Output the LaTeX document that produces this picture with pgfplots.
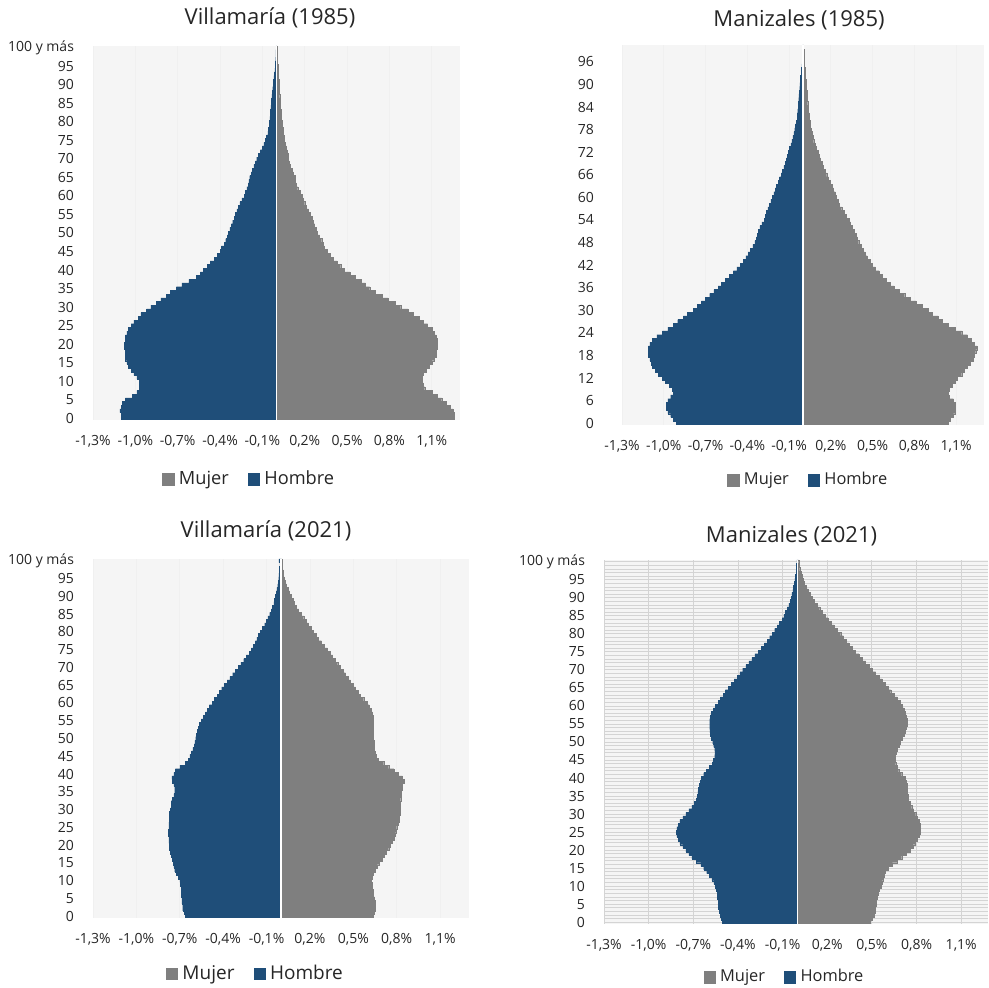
\documentclass[border=0pt]{standalone}
\usepackage{fontspec}
\setmainfont{Open Sans}
\usepackage{pgfplots}
\usepackage{pgfplotstable}
\pgfplotsset{compat=1.18}
\definecolor{hom}{RGB}{31,78,121}
\definecolor{muj}{RGB}{127,127,127}

% Villamaria 1985: age, mujer, hombre
\pgfplotstableread{
a m h
0 1.26 -1.10
1 1.26 -1.10
2 1.25 -1.11
3 1.23 -1.10
4 1.20 -1.09
5 1.17 -1.07
6 1.14 -1.02
7 1.10 -0.99
8 1.05 -0.97
9 1.04 -0.97
10 1.03 -0.97
11 1.03 -0.99
12 1.04 -1.01
13 1.06 -1.03
14 1.08 -1.05
15 1.10 -1.06
16 1.12 -1.07
17 1.13 -1.07
18 1.13 -1.07
19 1.14 -1.08
20 1.14 -1.08
21 1.14 -1.07
22 1.13 -1.07
23 1.12 -1.06
24 1.10 -1.05
25 1.07 -1.03
26 1.04 -1.01
27 1.01 -0.98
28 0.97 -0.96
29 0.93 -0.92
30 0.88 -0.89
31 0.84 -0.85
32 0.79 -0.82
33 0.75 -0.78
34 0.70 -0.75
35 0.66 -0.71
36 0.63 -0.67
37 0.60 -0.62
38 0.56 -0.57
39 0.52 -0.54
40 0.48 -0.52
41 0.455 -0.49
42 0.43 -0.47
43 0.40 -0.44
44 0.38 -0.42
45 0.36 -0.40
46 0.34 -0.39
47 0.33 -0.37
48 0.32 -0.36
49 0.305 -0.35
50 0.29 -0.34
51 0.28 -0.33
52 0.27 -0.32
53 0.26 -0.31
54 0.25 -0.30
55 0.24 -0.29
56 0.225 -0.28
57 0.21 -0.27
58 0.20 -0.26
59 0.19 -0.245
60 0.18 -0.23
61 0.165 -0.22
62 0.15 -0.21
63 0.14 -0.20
64 0.135 -0.195
65 0.13 -0.19
66 0.12 -0.18
67 0.11 -0.17
68 0.10 -0.16
69 0.092 -0.15
70 0.085 -0.14
71 0.08 -0.128
72 0.075 -0.115
73 0.07 -0.10
74 0.063 -0.09
75 0.056 -0.08
76 0.052 -0.07
77 0.048 -0.062
78 0.045 -0.056
79 0.042 -0.052
80 0.038 -0.05
81 0.036 -0.047
82 0.033 -0.045
83 0.031 -0.042
84 0.028 -0.04
85 0.026 -0.038
86 0.025 -0.035
87 0.023 -0.032
88 0.021 -0.03
89 0.02 -0.027
90 0.019 -0.024
91 0.017 -0.021
92 0.015 -0.018
93 0.013 -0.015
94 0.011 -0.012
95 0.01 -0.01
96 0.008 -0.008
97 0.007 -0.006
98 0.006 -0.005
99 0.005 -0.004
100 0.004 -0.003
}\tA

% Manizales 1985
\pgfplotstableread{
a m h
0 1.04 -0.91
1 1.06 -0.93
2 1.08 -0.95
3 1.09 -0.97
4 1.09 -0.98
5 1.09 -0.98
6 1.08 -0.97
7 1.05 -0.95
8 1.04 -0.93
9 1.05 -0.94
10 1.07 -0.96
11 1.09 -0.99
12 1.11 -1.01
13 1.14 -1.04
14 1.16 -1.06
15 1.18 -1.08
16 1.20 -1.09
17 1.22 -1.10
18 1.23 -1.11
19 1.24 -1.11
20 1.25 -1.11
21 1.23 -1.10
22 1.21 -1.08
23 1.18 -1.05
24 1.14 -1.01
25 1.09 -0.97
26 1.04 -0.93
27 1.00 -0.90
28 0.97 -0.86
29 0.93 -0.83
30 0.90 -0.79
31 0.855 -0.76
32 0.81 -0.73
33 0.77 -0.70
34 0.73 -0.67
35 0.69 -0.64
36 0.655 -0.61
37 0.625 -0.585
38 0.595 -0.56
39 0.57 -0.53
40 0.547 -0.50
41 0.52 -0.475
42 0.50 -0.45
43 0.48 -0.43
44 0.46 -0.41
45 0.445 -0.395
46 0.43 -0.38
47 0.415 -0.36
48 0.40 -0.345
49 0.39 -0.335
50 0.38 -0.33
51 0.367 -0.32
52 0.354 -0.31
53 0.342 -0.295
54 0.33 -0.28
55 0.31 -0.272
56 0.294 -0.265
57 0.278 -0.252
58 0.263 -0.24
59 0.25 -0.23
60 0.24 -0.22
61 0.23 -0.21
62 0.22 -0.20
63 0.21 -0.19
64 0.197 -0.178
65 0.183 -0.168
66 0.17 -0.157
67 0.158 -0.147
68 0.147 -0.138
69 0.137 -0.128
70 0.126 -0.12
71 0.116 -0.112
72 0.106 -0.104
73 0.096 -0.096
74 0.086 -0.088
75 0.077 -0.08
76 0.07 -0.073
77 0.064 -0.066
78 0.058 -0.06
79 0.053 -0.054
80 0.049 -0.048
81 0.046 -0.043
82 0.043 -0.04
83 0.04 -0.038
84 0.036 -0.036
85 0.034 -0.034
86 0.031 -0.031
87 0.029 -0.029
88 0.027 -0.027
89 0.024 -0.024
90 0.022 -0.022
91 0.02 -0.019
92 0.017 -0.017
93 0.014 -0.014
94 0.013 -0.012
95 0.011 -0.009
96 0.01 -0.007
97 0.008 -0.005
98 0.006 -0.004
99 0.005 -0.003
100 0.004 -0.003
}\tB

% Villamaria 2021
\pgfplotstableread{
a m h
0 0.64 -0.66
1 0.645 -0.67
2 0.65 -0.68
3 0.65 -0.68
4 0.65 -0.685
5 0.645 -0.685
6 0.64 -0.69
7 0.635 -0.69
8 0.63 -0.69
9 0.628 -0.695
10 0.625 -0.70
11 0.628 -0.71
12 0.635 -0.725
13 0.65 -0.735
14 0.665 -0.74
15 0.68 -0.745
16 0.70 -0.75
17 0.715 -0.76
18 0.73 -0.765
19 0.745 -0.77
20 0.755 -0.77
21 0.77 -0.775
22 0.78 -0.775
23 0.79 -0.78
24 0.795 -0.78
25 0.80 -0.775
26 0.81 -0.775
27 0.815 -0.77
28 0.82 -0.77
29 0.823 -0.77
30 0.825 -0.765
31 0.825 -0.76
32 0.825 -0.76
33 0.828 -0.75
34 0.83 -0.74
35 0.832 -0.735
36 0.835 -0.735
37 0.84 -0.74
38 0.85 -0.75
39 0.84 -0.755
40 0.81 -0.74
41 0.78 -0.73
42 0.745 -0.70
43 0.71 -0.66
44 0.675 -0.64
45 0.66 -0.63
46 0.65 -0.62
47 0.647 -0.61
48 0.645 -0.60
49 0.642 -0.595
50 0.64 -0.59
51 0.64 -0.585
52 0.64 -0.58
53 0.64 -0.572
54 0.64 -0.565
55 0.64 -0.55
56 0.64 -0.535
57 0.633 -0.522
58 0.625 -0.51
59 0.61 -0.495
60 0.595 -0.477
61 0.572 -0.46
62 0.55 -0.44
63 0.532 -0.425
64 0.515 -0.41
65 0.497 -0.39
66 0.48 -0.373
67 0.462 -0.353
68 0.445 -0.334
69 0.427 -0.315
70 0.41 -0.297
71 0.392 -0.277
72 0.375 -0.258
73 0.357 -0.24
74 0.34 -0.22
75 0.32 -0.205
76 0.30 -0.19
77 0.28 -0.178
78 0.26 -0.166
79 0.242 -0.155
80 0.225 -0.143
81 0.207 -0.128
82 0.19 -0.113
83 0.173 -0.10
84 0.157 -0.09
85 0.14 -0.078
86 0.122 -0.067
87 0.108 -0.058
88 0.094 -0.05
89 0.082 -0.045
90 0.07 -0.04
91 0.059 -0.034
92 0.048 -0.028
93 0.039 -0.023
94 0.03 -0.018
95 0.024 -0.016
96 0.018 -0.014
97 0.014 -0.012
98 0.01 -0.01
99 0.008 -0.008
100 0.008 -0.015
}\tC

% Manizales 2021
\pgfplotstableread{
a m h
0 0.49 -0.507
1 0.50 -0.512
2 0.513 -0.518
3 0.52 -0.524
4 0.525 -0.53
5 0.528 -0.532
6 0.53 -0.534
7 0.535 -0.537
8 0.54 -0.54
9 0.55 -0.545
10 0.56 -0.55
11 0.567 -0.562
12 0.574 -0.575
13 0.582 -0.592
14 0.59 -0.61
15 0.61 -0.63
16 0.637 -0.65
17 0.668 -0.68
18 0.70 -0.71
19 0.73 -0.73
20 0.76 -0.75
21 0.775 -0.77
22 0.79 -0.79
23 0.803 -0.80
24 0.816 -0.81
25 0.822 -0.812
26 0.827 -0.81
27 0.822 -0.80
28 0.816 -0.79
29 0.805 -0.77
30 0.794 -0.75
31 0.78 -0.73
32 0.767 -0.71
33 0.755 -0.695
34 0.744 -0.68
35 0.741 -0.675
36 0.738 -0.67
37 0.738 -0.665
38 0.738 -0.66
39 0.73 -0.652
40 0.722 -0.645
41 0.70 -0.63
42 0.68 -0.614
43 0.67 -0.594
44 0.66 -0.574
45 0.657 -0.565
46 0.655 -0.556
47 0.662 -0.555
48 0.67 -0.556
49 0.682 -0.563
50 0.693 -0.57
51 0.704 -0.578
52 0.715 -0.585
53 0.723 -0.588
54 0.73 -0.59
55 0.735 -0.59
56 0.738 -0.59
57 0.732 -0.585
58 0.726 -0.58
59 0.715 -0.565
60 0.704 -0.55
61 0.687 -0.534
62 0.67 -0.518
63 0.648 -0.50
64 0.626 -0.484
65 0.607 -0.464
66 0.587 -0.444
67 0.567 -0.425
68 0.547 -0.406
69 0.525 -0.387
70 0.502 -0.368
71 0.48 -0.347
72 0.457 -0.327
73 0.435 -0.307
74 0.413 -0.287
75 0.39 -0.265
76 0.368 -0.242
77 0.347 -0.223
78 0.327 -0.204
79 0.308 -0.187
80 0.29 -0.17
81 0.267 -0.153
82 0.244 -0.137
83 0.225 -0.12
84 0.206 -0.103
85 0.186 -0.091
86 0.166 -0.08
87 0.149 -0.069
88 0.132 -0.058
89 0.115 -0.05
90 0.099 -0.043
91 0.085 -0.037
92 0.072 -0.031
93 0.06 -0.026
94 0.047 -0.022
95 0.039 -0.017
96 0.031 -0.013
97 0.023 -0.01
98 0.015 -0.007
99 0.011 -0.006
100 0.008 -0.005
}\tD

\pgfplotsset{
  pyr/.style={
    scale only axis, xbar, bar width=1, bar shift=0pt,
    xmin=-1.3, xmax=1.3, ymin=-0.5, ymax=100.5,
    enlargelimits=false,
    xtick={-1.3,-1,-0.7,-0.4,-0.1,0.2,0.5,0.8,1.1},
    xticklabels={{-1,3\%},{-1,0\%},{-0,7\%},{-0,4\%},{-0,1\%},{0,2\%},{0,5\%},{0,8\%},{1,1\%}},
    axis line style={draw=none}, major tick length=0pt, minor tick length=0pt,
    tick label style={font=\fontsize{7}{8}\selectfont, text=black!85},
    xticklabel style={yshift=-4pt},
    yticklabel style={xshift=-6pt},
    xmajorgrids, grid style={black!6, line width=0.4pt},
    axis background/.style={fill=black!4},
    legend columns=2,
    legend style={draw=none, fill=none, anchor=center, inner sep=0pt,
      nodes={inner xsep=2.5pt, inner ysep=1pt, text=black!85},
      /tikz/every even column/.append style={column sep=7pt}},
    legend image code/.code={\fill[##1] (0pt,-2.8pt) rectangle (5.6pt,2.8pt);},
  },
  yfive/.style={
    ytick={0,5,...,100},
    yticklabels={0,5,10,15,20,25,30,35,40,45,50,55,60,65,70,75,80,85,90,95,100 y más},
  },
  mujbar/.style={fill=muj, draw=muj, line width=0.15pt},
  hombar/.style={fill=hom, draw=hom, line width=0.15pt},
}

\begin{document}
\begin{tikzpicture}
\path[use as bounding box] (0,0) rectangle (494.5pt,494pt);

% Villamaria 1985
\begin{axis}[pyr, yfive, at={(46.5pt,284pt)}, anchor=south west,
  width=183.5pt, height=187pt,
  legend style={at={(0.43,-0.158)}, font=\fontsize{9.1}{10}\selectfont}]
\addplot[mujbar] table[x=m,y=a] {\tA};
\addplot[hombar] table[x=h,y=a] {\tA};
\legend{Mujer,Hombre}
\draw[white, line width=0.8pt] (axis cs:0,-0.5) -- (axis cs:0,100.5);
\end{axis}
\node[font=\fontsize{11}{13}\selectfont, text=black!85] at (135pt,485pt) {Villamaría (1985)};

% Manizales 1985
\begin{axis}[pyr, at={(311pt,281.5pt)}, anchor=south west,
  width=181pt, height=190pt,
  ytick={0,6,...,96},
  yticklabels={0,6,12,18,24,30,36,42,48,54,60,66,72,78,84,90,96},
  yticklabel style={xshift=-4.5pt},
  legend style={at={(0.519,-0.145)}, font=\fontsize{8.2}{9.5}\selectfont}]
\addplot[mujbar] table[x=m,y=a] {\tB};
\addplot[hombar] table[x=h,y=a] {\tB};
\legend{Mujer,Hombre}
\draw[white, line width=0.8pt] (axis cs:0,-0.5) -- (axis cs:0,100.5);
\end{axis}
\node[font=\fontsize{11}{13}\selectfont, text=black!85] at (399.5pt,484pt) {Manizales (1985)};

% Villamaria 2021
\begin{axis}[pyr, yfive, at={(46.5pt,35pt)}, anchor=south west,
  width=188pt, height=179.5pt,
  legend style={at={(0.436,-0.156)}, font=\fontsize{9.5}{11}\selectfont}]
\addplot[mujbar] table[x=m,y=a] {\tC};
\addplot[hombar] table[x=h,y=a] {\tC};
\legend{Mujer,Hombre}
\draw[white, line width=0.8pt] (axis cs:0,-0.5) -- (axis cs:0,100.5);
\end{axis}
\node[font=\fontsize{11}{13}\selectfont, text=black!85] at (133pt,228.5pt) {Villamaría (2021)};

% Manizales 2021
\begin{axis}[pyr, yfive, at={(302pt,32pt)}, anchor=south west,
  width=192pt, height=182pt, xmax=1.28,
  minor ytick={0,1,...,100}, yminorgrids, ymajorgrids,
  minor grid style={black!17, line width=0.45pt},
  major grid style={black!17, line width=0.45pt},
  legend style={at={(0.474,-0.146)}, font=\fontsize{8.2}{9.5}\selectfont}]
\addplot[mujbar] table[x=m,y=a] {\tD};
\addplot[hombar] table[x=h,y=a] {\tD};
\legend{Mujer,Hombre}
\draw[white, line width=0.8pt] (axis cs:0,-0.5) -- (axis cs:0,100.5);
\end{axis}
\node[font=\fontsize{11}{13}\selectfont, text=black!85] at (395.75pt,226pt) {Manizales (2021)};
\end{tikzpicture}
\end{document}
